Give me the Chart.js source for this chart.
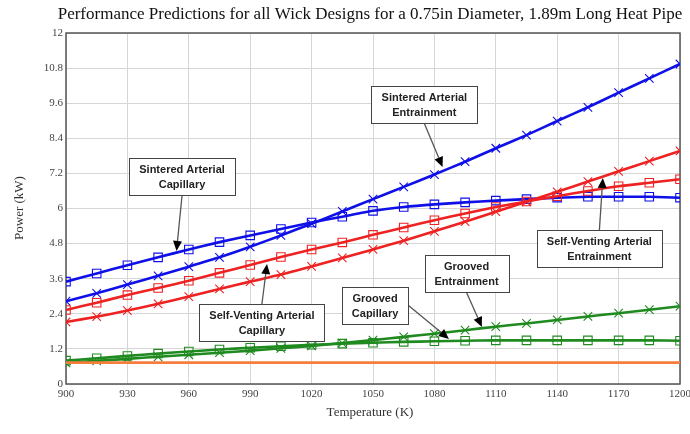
<!DOCTYPE html>
<html lang="en">
<head>
<meta charset="UTF-8" />
<title>Heat Pipe Wick Performance</title>
<script src="https://cdn.jsdelivr.net/npm/chart.js"></script>
<style>
  html, body { margin: 0; padding: 0; background: #fff; }
  #wrap { width: 690px; height: 434px; }
</style>
</head>
<body>
<div id="wrap"><canvas id="chart" width="690" height="434"></canvas></div>
<script>
  // temperature (K) at each computed point
  const temps = [900, 915, 930, 945, 960, 975, 990, 1005, 1020, 1035, 1050,
                 1065, 1080, 1095, 1110, 1125, 1140, 1155, 1170, 1185, 1200];

  // power limits (kW)
  const sinteredCapillary = [3.50, 3.78, 4.06, 4.33, 4.60, 4.85, 5.08, 5.30, 5.52, 5.72, 5.92,
                             6.05, 6.14, 6.21, 6.27, 6.32, 6.37, 6.40, 6.40, 6.40, 6.37];
  const sinteredEntrainment = [2.83, 3.10, 3.40, 3.70, 4.01, 4.33, 4.69, 5.08, 5.48, 5.90, 6.32,
                               6.74, 7.16, 7.60, 8.06, 8.51, 8.99, 9.46, 9.96, 10.45, 10.94];
  const ventingCapillary = [2.53, 2.78, 3.04, 3.28, 3.53, 3.80, 4.07, 4.34, 4.60, 4.84, 5.10,
                            5.35, 5.60, 5.83, 6.05, 6.24, 6.42, 6.60, 6.76, 6.88, 7.00];
  const ventingEntrainment = [2.12, 2.30, 2.51, 2.74, 2.99, 3.25, 3.50, 3.74, 4.02, 4.31, 4.60,
                              4.90, 5.22, 5.55, 5.89, 6.23, 6.57, 6.92, 7.27, 7.62, 7.97];
  const groovedCapillary = [0.80, 0.88, 0.96, 1.04, 1.11, 1.18, 1.24, 1.29, 1.34, 1.38, 1.41,
                            1.44, 1.46, 1.48, 1.49, 1.49, 1.49, 1.49, 1.49, 1.49, 1.48];
  const groovedEntrainment = [0.72, 0.79, 0.86, 0.93, 1.00, 1.07, 1.14, 1.22, 1.30, 1.40, 1.50,
                              1.61, 1.72, 1.84, 1.96, 2.07, 2.19, 2.31, 2.42, 2.54, 2.66];
  const baseline = [0.73, 0.73, 0.73, 0.73, 0.73, 0.73, 0.73, 0.73, 0.73, 0.73, 0.73,
                    0.73, 0.73, 0.73, 0.73, 0.73, 0.73, 0.73, 0.73, 0.73, 0.73];

  const yTicks = [0, 1.2, 2.4, 3.6, 4.8, 6, 7.2, 8.4, 9.6, 10.8, 12];
  const yTickLabels = ['0', '1.2', '2.4', '3.6', '4.8', '6', '7.2', '8.4', '9.6', '10.8', '12'];

  const titleText = 'Performance Predictions for all Wick Designs for a 0.75in Diameter, 1.89m Long Heat Pipe';

  // callout boxes: centre and arrow tip in data units
  const notes = [
    { lines: ['Sintered Arterial', 'Capillary'], at: [956.7, 7.08], tip: [954, 4.55], side: 'bottom' },
    { lines: ['Sintered Arterial', 'Entrainment'], at: [1075.1, 9.57], tip: [1084, 7.42], side: 'bottom' },
    { lines: ['Self-Venting Arterial', 'Entrainment'], at: [1160.6, 4.63], tip: [1162.3, 7.04], side: 'top' },
    { lines: ['Self-Venting Arterial', 'Capillary'], at: [995.7, 2.09], tip: [998.2, 4.10], side: 'top' },
    { lines: ['Grooved', 'Capillary'], at: [1051, 2.68], tip: [1087.1, 1.54], side: 'right' },
    { lines: ['Grooved', 'Entrainment'], at: [1095.7, 3.78], tip: [1103.2, 1.95], side: 'bottom' }
  ];

  const serif = '"Liberation Serif", "Times New Roman", serif';
  const blue = '#0f0fe8', red = '#ee2222', green = '#1f8a1f', orange = '#f57d3d';

  function pts(vals) {
    return vals.map((v, i) => ({ x: temps[i], y: v }));
  }

  function series(label, vals, color, shape) {
    return {
      label: label,
      data: pts(vals),
      borderColor: color,
      backgroundColor: 'transparent',
      borderWidth: 2.6,
      tension: 0.2,
      pointStyle: shape || false,
      pointRadius: shape ? 6 : 0,
      pointBorderWidth: 1.1,
      pointBorderColor: color,
      pointBackgroundColor: 'transparent'
    };
  }

  // frame round the plot area
  const framePlugin = {
    id: 'frame',
    beforeDatasetsDraw(chart) {
      const a = chart.chartArea, ctx = chart.ctx;
      ctx.save();
      ctx.strokeStyle = '#555';
      ctx.lineWidth = 1.5;
      ctx.strokeRect(a.left, a.top, a.right - a.left, a.bottom - a.top);
      ctx.restore();
    }
  };

  // title, axis titles and the callouts
  const textPlugin = {
    id: 'texts',
    afterDraw(chart) {
      const ctx = chart.ctx;
      const xs = chart.scales.x, ys = chart.scales.y;
      ctx.save();
      ctx.fillStyle = '#111';
      ctx.textAlign = 'center';
      ctx.textBaseline = 'middle';
      ctx.font = '17px ' + serif;
      ctx.fillText(titleText, 370, 15);

      ctx.font = '13px ' + serif;
      ctx.fillStyle = '#333';
      ctx.fillText('Temperature (K)', 370, 413);
      ctx.save();
      ctx.translate(20, 208);
      ctx.rotate(-Math.PI / 2);
      ctx.fillText('Power (kW)', 0, 0);
      ctx.restore();

      ctx.font = 'bold 11px "Liberation Sans", Arial, sans-serif';
      notes.forEach(n => {
        const cx = xs.getPixelForValue(n.at[0]);
        const cy = ys.getPixelForValue(n.at[1]);
        const tw = Math.max(...n.lines.map(l => ctx.measureText(l).width));
        const w = Math.round(tw + 20), h = 37;
        const x0 = Math.round(cx - w / 2) + 0.5, y0 = Math.round(cy - h / 2) + 0.5;

        // arrow
        let sx = cx, sy = cy;
        if (n.side === 'bottom') sy = y0 + h;
        if (n.side === 'top') sy = y0;
        if (n.side === 'right') sx = x0 + w;
        const tx = xs.getPixelForValue(n.tip[0]);
        const ty = ys.getPixelForValue(n.tip[1]);
        const ang = Math.atan2(ty - sy, tx - sx);
        const len = 10, half = 4.5;
        const bx = tx - Math.cos(ang) * len, by = ty - Math.sin(ang) * len;
        ctx.strokeStyle = '#555';
        ctx.lineWidth = 1.3;
        ctx.beginPath();
        ctx.moveTo(sx, sy);
        ctx.lineTo(bx, by);
        ctx.stroke();
        ctx.fillStyle = '#000';
        ctx.beginPath();
        ctx.moveTo(tx, ty);
        ctx.lineTo(bx + Math.sin(ang) * half, by - Math.cos(ang) * half);
        ctx.lineTo(bx - Math.sin(ang) * half, by + Math.cos(ang) * half);
        ctx.closePath();
        ctx.fill();

        // box
        ctx.fillStyle = '#fff';
        ctx.fillRect(x0, y0, w, h);
        ctx.strokeStyle = '#444';
        ctx.lineWidth = 1;
        ctx.strokeRect(x0, y0, w, h);
        ctx.fillStyle = '#222';
        ctx.fillText(n.lines[0], cx, y0 + h / 2 - 7);
        ctx.fillText(n.lines[1], cx, y0 + h / 2 + 8);
      });
      ctx.restore();
    }
  };

  new Chart(document.getElementById('chart'), {
    type: 'line',
    data: {
      datasets: [
        series('Baseline', baseline, orange, null),
        series('Grooved Capillary', groovedCapillary, green, 'rect'),
        series('Grooved Entrainment', groovedEntrainment, green, 'crossRot'),
        series('Self-Venting Arterial Capillary', ventingCapillary, red, 'rect'),
        series('Self-Venting Arterial Entrainment', ventingEntrainment, red, 'crossRot'),
        series('Sintered Arterial Capillary', sinteredCapillary, blue, 'rect'),
        series('Sintered Arterial Entrainment', sinteredEntrainment, blue, 'crossRot')
      ]
    },
    options: {
      responsive: false,
      animation: false,
      layout: { padding: { top: 33, right: 10, left: 0, bottom: 0 } },
      plugins: {
        legend: { display: false },
        tooltip: { enabled: false },
        title: { display: false }
      },
      scales: {
        x: {
          type: 'linear',
          min: 900,
          max: 1200,
          ticks: {
            stepSize: 30,
            color: '#444',
            padding: 4,
            maxRotation: 0,
            font: { family: serif, size: 11 },
            callback: (v) => String(v)
          },
          grid: { color: '#d6d6d6', drawTicks: false },
          border: { display: false },
          afterFit(s) { s.height = 50; s.paddingLeft = 0; s.paddingRight = 0; }
        },
        y: {
          min: 0,
          max: 12,
          afterBuildTicks(s) { s.ticks = yTicks.map(v => ({ value: v })); },
          ticks: {
            color: '#444',
            padding: 3,
            font: { family: serif, size: 11 },
            callback: (v) => yTickLabels[yTicks.indexOf(v)] ?? ''
          },
          grid: { color: '#d6d6d6', drawTicks: false },
          border: { display: false },
          afterFit(s) { s.width = 66; s.paddingTop = 0; s.paddingBottom = 0; }
        }
      }
    },
    plugins: [framePlugin, textPlugin]
  });
</script>
</body>
</html>
